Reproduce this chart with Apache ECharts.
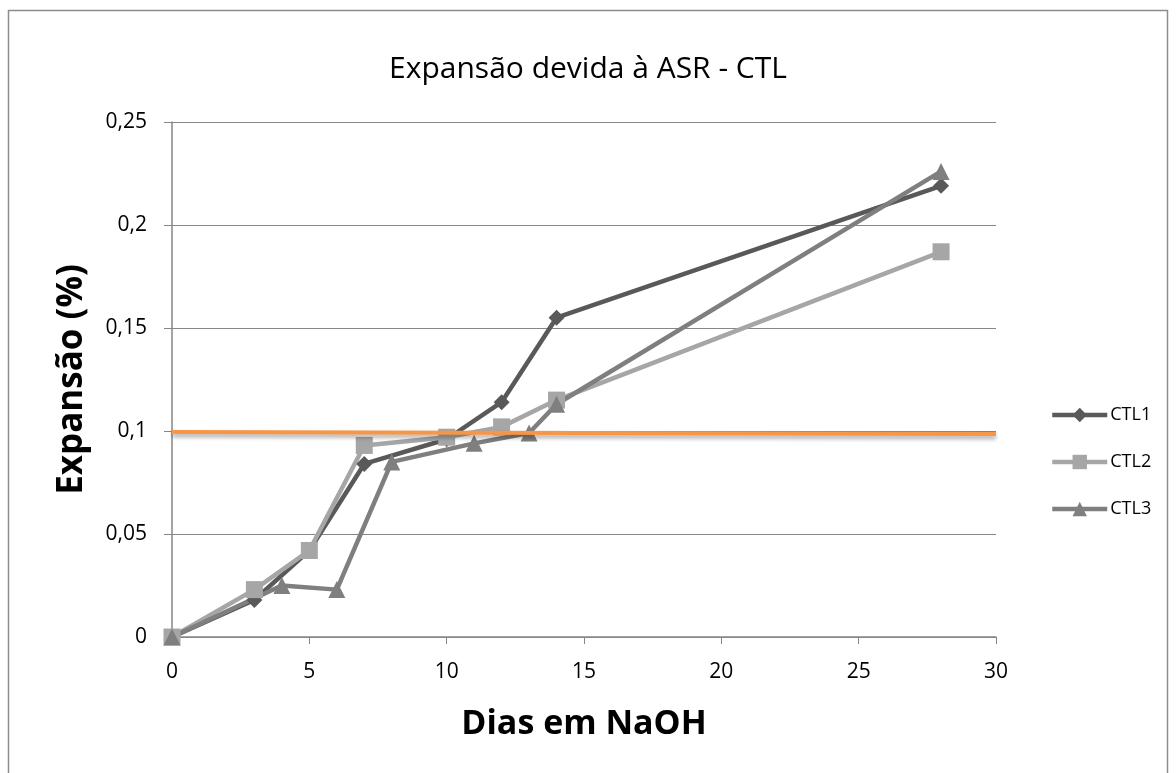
<!DOCTYPE html>
<html><head><meta charset="utf-8">
<script src="https://cdn.jsdelivr.net/npm/echarts@6/dist/echarts.min.js"></script>
<style>html,body{margin:0;padding:0;background:#fff}#c{width:1176px;height:773px}</style>
</head><body><div id="c"></div>
<script>
const titleText = "Expansão devida à ASR - CTL";
const xName = "Dias em NaOH";
const yName = "Expansão (%)";
const ctl1Days = [0, 3, 5, 7, 10, 12, 14, 28];
const ctl1Vals = [0, 0.018, 0.042, 0.084, 0.096, 0.114, 0.155, 0.219];
const ctl2Days = [0, 3, 5, 7, 10, 12, 14, 28];
const ctl2Vals = [0, 0.023, 0.042, 0.093, 0.097, 0.102, 0.115, 0.187];
const ctl3Days = [0, 4, 6, 8, 11, 13, 14, 28];
const ctl3Vals = [0, 0.025, 0.023, 0.085, 0.094, 0.099, 0.113, 0.226];
const limitDays = [0, 30];
const limitVals = [0.0995, 0.0985];

const font = "'Open Sans', 'Noto Sans', sans-serif";
const pair = (xs, ys) => xs.map((x, i) => [x, ys[i]]);
const fmt = v => String(+v.toFixed(2)).replace('.', ',');

const chart = echarts.init(document.getElementById('c'), null, {renderer: 'canvas'});
function lineSeries(name, data, color, symbol, size) {
  return {name, type: 'line', data, symbol, symbolSize: size,
    lineStyle: {color, width: 4.5}, itemStyle: {color},
    z: 3};
}
chart.setOption({
  animation: false,
  graphic: [{type: 'rect', shape: {x: 8.5, y: 10.5, width: 1159, height: 780},
    style: {fill: 'none', stroke: '#8c8c8c', lineWidth: 1.5}, z: -1}],
  title: {text: titleText, left: 'center', top: 49,
    textStyle: {fontFamily: font, fontSize: 30, fontWeight: 'normal', color: '#000'}},
  grid: {left: 172, right: 180, top: 122, bottom: 136},
  legend: {orient: 'vertical', left: 1045, top: 401, itemGap: 29, itemWidth: 55, itemHeight: 18,
    data: ['CTL1', 'CTL2', 'CTL3'],
    lineStyle: {width: 4.5},
    textStyle: {fontFamily: font, fontSize: 18, lineHeight: 18, color: '#000', padding: [0, 0, 0, -2]}},
  xAxis: {type: 'value', min: 0, max: 30, interval: 5,
    name: xName, nameLocation: 'middle', nameGap: 70,
    nameTextStyle: {fontFamily: font, fontSize: 34, fontWeight: 'bold', color: '#000'},
    axisLine: {show: true, lineStyle: {color: '#868686', width: 1.5}},
    axisTick: {show: true, length: 7, lineStyle: {color: '#868686'}},
    axisLabel: {fontFamily: font, fontSize: 21, color: '#000', margin: 25},
    splitLine: {show: false}},
  yAxis: {type: 'value', min: 0, max: 0.25, interval: 0.05,
    name: yName, nameLocation: 'middle', nameGap: 82,
    nameTextStyle: {fontFamily: font, fontSize: 35, fontWeight: 'bold', color: '#000'},
    axisLine: {show: true, lineStyle: {color: '#868686', width: 1.5}},
    axisTick: {show: true, length: 8, lineStyle: {color: '#868686'}},
    axisLabel: {fontFamily: font, fontSize: 21, color: '#000', margin: 25, formatter: fmt},
    splitLine: {show: true, lineStyle: {color: '#868686', width: 1.2}}},
  series: [
    lineSeries('CTL1', pair(ctl1Days, ctl1Vals), '#595959', 'diamond', 16),
    lineSeries('CTL2', pair(ctl2Days, ctl2Vals), '#A6A6A6', 'rect', 17),
    lineSeries('CTL3', pair(ctl3Days, ctl3Vals), '#7F7F7F', 'triangle', 17),
    {name: 'limite', type: 'line', data: pair(limitDays, limitVals), symbol: 'none',
      lineStyle: {color: '#F79646', width: 4, shadowColor: 'rgba(0,0,0,0.35)', shadowBlur: 4, shadowOffsetY: 3},
      z: 4}
  ]
});
</script></body></html>
